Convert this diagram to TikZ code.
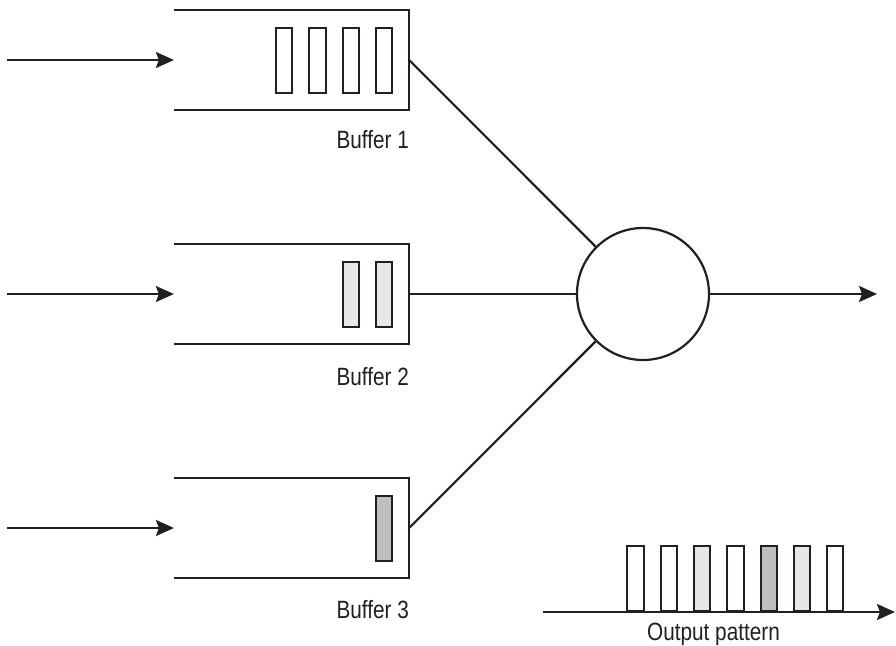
\documentclass[tikz,border=0pt]{standalone}
\usepackage{fontspec}
\setmainfont{Liberation Sans}[FakeStretch=0.83]
\usetikzlibrary{arrows.meta}

\definecolor{ink}{HTML}{231F20}
\definecolor{slotlight}{HTML}{E6E7E8}
\definecolor{slotdark}{HTML}{BCBEC0}

\begin{document}
\begin{tikzpicture}[x=1pt, y=-1pt, node distance=33.3pt, line width=2.2pt, draw=ink,
    buffer/.style={minimum width=233pt, minimum height=98pt, inner sep=0pt},
    slot/.style={draw=ink, line width=2pt, minimum width=16.3pt, minimum height=65pt, inner sep=0pt},
    tag/.style={font=\fontsize{25}{30}\selectfont, text=ink, inner sep=0pt},
    tip/.style={-{Stealth[length=18pt, width=16pt, inset=3pt]}}]
    \useasboundingbox (0,0) rectangle (896,645);

    % Buffers
    \node[buffer] (b1) at (291.5,60) {};
    \node[buffer] (b2) at (291.5,294) {};
    \node[buffer] (b3) at (291.5,528) {};
    \draw (b1.north west) -- (b1.north east) -- (b1.south east) -- (b1.south west);
    \draw (b2.north west) -- (b2.north east) -- (b2.south east) -- (b2.south west);
    \draw (b3.north west) -- (b3.north east) -- (b3.south east) -- (b3.south west);

    % Queued packets
    \node[slot, fill=white] (s1_4) at (384,60) {};
    \node[slot, fill=white, left of=s1_4] (s1_3) {};
    \node[slot, fill=white, left of=s1_3] (s1_2) {};
    \node[slot, fill=white, left of=s1_2] (s1_1) {};
    \node[slot, fill=slotlight] (s2_2) at (384,294.5) {};
    \node[slot, fill=slotlight, left of=s2_2] (s2_1) {};
    \node[slot, fill=slotdark] (s3_1) at (384,528.5) {};

    % Labels
    \node[tag, anchor=base east] (l1) at (410,148) {Buffer 1};
    \node[tag, anchor=base east] (l2) at (410,385) {Buffer 2};
    \node[tag, anchor=base east] (l3) at (410,618) {Buffer 3};

    % Multiplexer
    \node[circle, draw=ink, fill=white, minimum size=132pt, inner sep=0pt] (mux) at (643,294) {};

    % Inputs
    \coordinate (in1) at (7,60);
    \coordinate (in2) at (7,294);
    \coordinate (in3) at (7,528);
    \draw[tip] (in1) -- (b1.west);
    \draw[tip] (in2) -- (b2.west);
    \draw[tip] (in3) -- (b3.west);

    % Connections
    \draw (b1.east) -- (mux);
    \draw (b2.east) -- (mux);
    \draw (b3.east) -- (mux);
    \coordinate (out) at (877,294);
    \draw[tip] (mux) -- (out);

    % Output pattern
    \coordinate (t0) at (543,612);
    \coordinate (t1) at (895,612);
    \node[slot, fill=white] (p1) at (635.5,578.5) {};
    \node[slot, fill=white, right of=p1] (p2) {};
    \node[slot, fill=slotlight, right of=p2] (p3) {};
    \node[slot, fill=white, right of=p3] (p4) {};
    \node[slot, fill=slotdark, right of=p4] (p5) {};
    \node[slot, fill=slotlight, right of=p5] (p6) {};
    \node[slot, fill=white, right of=p6] (p7) {};
    \draw[tip] (t0) -- (t1);
    \node[tag, anchor=base] (lout) at (713.5,640) {Output pattern};
\end{tikzpicture}
\end{document}
